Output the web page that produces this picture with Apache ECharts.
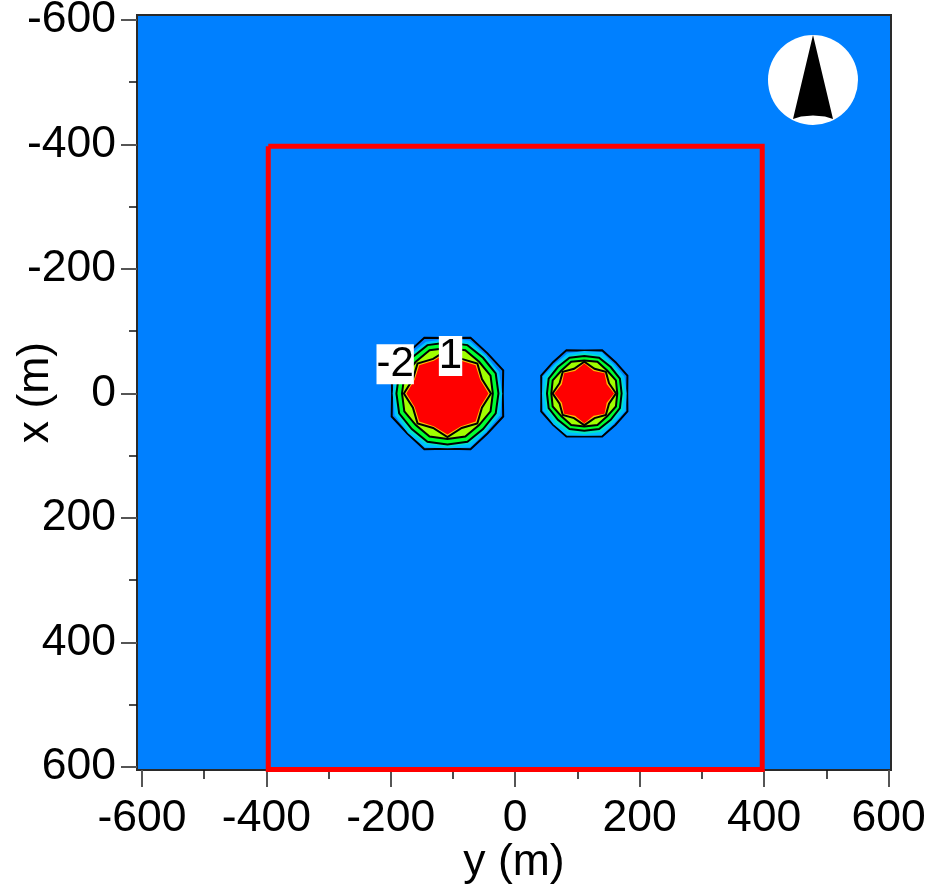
<!DOCTYPE html>
<html>
<head>
<meta charset="utf-8">
<style>html,body{margin:0;padding:0;background:#fff}#c{width:931px;height:889px}</style>
<script src="https://cdn.jsdelivr.net/npm/echarts@6/dist/echarts.min.js"></script>
</head>
<body>
<div id="c"></div>
<script>
// Tick values and labels
const majorTicks = [-600, -400, -200, 0, 200, 400, 600];
const minorTicks = [-500, -300, -100, 100, 300, 500];
// Survey boundary, [y, x] in metres
const boundary = [[-397,-397],[397,-397],[397,604],[-397,604],[-397,-397]];
// Blob centres, [y, x] in metres
const leftCentre = [-109, 0];
const rightCentre = [111, 0];
// Contour radii (m), read clockwise every 22.5 degrees starting from the +y direction
const leftOctagon = [89,97,91,97,89,97,91,97,89,97,91,97,89,97,91,97];
const leftCyan    = [88,92,88,94,88,94,90,92,88,92,87,90,88,92,87,90];
const leftTeal    = [86,87,85,88,86,88,87,87,86,87,85,86,86,87,85,86];
const leftGreen   = [82,84,81,84,82,84,81,84,82,84,81,84,82,84,81,84];
const leftLime    = [73,75,72,75,73,75,72,75,73,75,72,75,73,75,72,75];
const leftStar    = [70,60,68,60,70,60,68,60,70,60,68,60,70,60,68,60];
const leftRed     = [66,57,64,57,66,57,64,57,66,57,64,57,66,57,64,57];
const rightOctagon= [69,75,71,75,69,75,71,75,69,75,71,75,69,75,71,75];
const rightCyan   = [68,72,68,73,68,73,70,72,68,72,67,70,68,72,67,70];
const rightTeal   = [65,66,64,67,65,67,66,66,65,66,64,65,65,66,64,65];
const rightGreen  = [60,62,60,62,60,62,60,62,60,62,60,62,60,62,60,62];
const rightLime   = [53,55,52,55,53,55,52,55,53,55,52,55,53,55,52,55];
const rightStar   = [51,43,49,43,51,43,49,43,51,43,49,43,51,43,49,43];
const rightRed    = [48,39,46,39,48,39,46,39,48,39,46,39,48,39,46,39];
// Contour labels: [y, x, text]
const contourLabels = [[-193,-47,'-2'],[-104,-60,'1']];

const bandColours = {cyan:'#00c0ff', teal:'#00e8c0', green:'#00ff30', lime:'#a0ff00', orange:'#ffc000', red:'#ff0000'};
const bands = [
  [leftCentre,leftOctagon,'#0080ff',true],[leftCentre,leftCyan,bandColours.cyan,false],[leftCentre,leftTeal,bandColours.teal,false],
  [leftCentre,leftGreen,bandColours.green,true],[leftCentre,leftLime,bandColours.lime,true],[leftCentre,leftStar,bandColours.orange,true],[leftCentre,leftRed,bandColours.red,false],
  [rightCentre,rightOctagon,'#0080ff',true],[rightCentre,rightCyan,bandColours.cyan,false],[rightCentre,rightTeal,bandColours.teal,false],
  [rightCentre,rightGreen,bandColours.green,true],[rightCentre,rightLime,bandColours.lime,true],[rightCentre,rightStar,bandColours.orange,true],[rightCentre,rightRed,bandColours.red,false]
];

function axisCommon(){ return {type:'value',min:-608,splitLine:{show:false},axisLine:{show:false,onZero:false}}; }
const labelStyle = {fontFamily:'"Liberation Sans",Arial,sans-serif',fontSize:44.5,color:'#000'};
const chart = echarts.init(document.getElementById('c'),null,{renderer:'canvas'});
chart.setOption({
  animation:false,
  backgroundColor:'#fff',
  grid:{left:137,top:15,width:754,height:755,show:true,outerBoundsMode:'none',containLabel:false,backgroundColor:'#0080ff',borderColor:'#2a2a2a',borderWidth:2},
  xAxis:[
    Object.assign(axisCommon(),{max:604,position:'bottom',name:'y (m)',nameLocation:'middle',nameGap:70,nameMoveOverlap:false,nameTextStyle:labelStyle,
      axisTick:{show:true,length:17,customValues:majorTicks,lineStyle:{color:'#555',width:2}},
      axisLabel:Object.assign({margin:26,customValues:majorTicks,showMinLabel:true,showMaxLabel:true},labelStyle)}),
    Object.assign(axisCommon(),{max:604,position:'bottom',
      axisTick:{show:true,length:9,customValues:minorTicks,lineStyle:{color:'#111',width:1.5}},axisLabel:{show:false}})
  ],
  yAxis:[
    Object.assign(axisCommon(),{max:605,inverse:true,position:'left',name:'x (m)',nameLocation:'middle',nameGap:79,nameMoveOverlap:false,nameRotate:90,nameTextStyle:labelStyle,
      axisTick:{show:true,length:16,customValues:majorTicks,lineStyle:{color:'#555',width:2}},
      axisLabel:Object.assign({margin:21,padding:[8,0,0,0],customValues:majorTicks,showMinLabel:true,showMaxLabel:true},labelStyle)}),
    Object.assign(axisCommon(),{max:605,inverse:true,position:'left',
      axisTick:{show:true,length:8,customValues:minorTicks,lineStyle:{color:'#111',width:1.5}},axisLabel:{show:false}})
  ],
  series:[
    {type:'custom',coordinateSystem:'cartesian2d',silent:true,z:3,
     data:bands.map((b,i)=>[b[0][0],b[0][1],i]),
     encode:{x:0,y:1},
     renderItem:function(params,api){
       const b = bands[api.value(2)];
       const pts = b[1].map((r,k)=>{
         const a = k*Math.PI/8;
         return api.coord([b[0][0]+r*Math.cos(a), b[0][1]+r*Math.sin(a)]);
       });
       return {type:'polygon',shape:{points:pts},
         style:{fill:b[2],stroke:b[3]?'#000':b[2],lineWidth:b[3]?2:0}};
     }},
    {type:'line',data:boundary,showSymbol:false,symbol:'none',silent:true,z:4,clip:false,
     lineStyle:{color:'#ff0000',width:5,join:'miter'}},
    {type:'scatter',data:contourLabels,symbolSize:0,silent:true,z:6,itemStyle:{opacity:1},
     label:{show:true,position:'inside',opacity:1,formatter:p=>p.value[2],backgroundColor:'#fff',padding:[12,0,0,0],
       lineHeight:28,color:'#000',fontFamily:'"Liberation Sans",Arial,sans-serif',fontSize:42}}
  ],
  graphic:{elements:[
    {type:'circle',shape:{cx:813,cy:80,r:45},style:{fill:'#fff'},z:10},
    {type:'polygon',shape:{points:[[813,35],[833,119],[825,116.5],[813,115.5],[801,116.5],[793,119]]},style:{fill:'#000'},z:11}
  ]}
});
</script>
</body>
</html>
